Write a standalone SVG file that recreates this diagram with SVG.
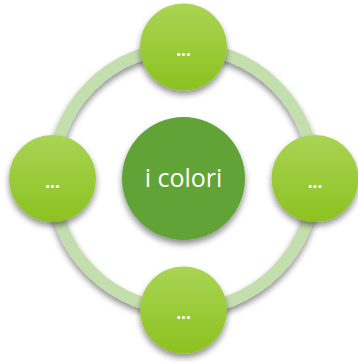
<svg xmlns="http://www.w3.org/2000/svg" width="358" height="362" viewBox="0 0 358 362">
<defs>
<linearGradient id="g" x1="0" y1="0" x2="0" y2="1">
<stop offset="0" stop-color="#a9d454"/>
<stop offset="1" stop-color="#8cc220"/>
</linearGradient>
<filter id="sh" x="-30%" y="-30%" width="160%" height="170%">
<feGaussianBlur in="SourceAlpha" stdDeviation="3"/>
<feOffset dx="0" dy="4" result="b"/>
<feComponentTransfer><feFuncA type="linear" slope="0.45"/></feComponentTransfer>
<feMerge><feMergeNode/><feMergeNode in="SourceGraphic"/></feMerge>
</filter>
</defs>
<style>
.n{fill:url(#g);filter:url(#sh)}
.t{fill:#fff;font-family:"Open Sans","Liberation Sans",sans-serif;text-anchor:middle}
.s{font-size:17px;font-weight:bold}
</style>
<g id="connectors">
<circle cx="183.5" cy="178.5" r="131" fill="none" stroke="#c4dfae" stroke-width="12" style="filter:url(#sh)"/>
</g>
<g id="center">
<circle cx="183.5" cy="178.5" r="61.5" fill="#62a338" style="filter:url(#sh)"/>
<text class="t" x="183.5" y="187" font-size="25">i colori</text>
</g>
<g id="top">
<circle class="n" cx="183.5" cy="47" r="43.5"/>
<text class="t s" x="183.5" y="56">...</text>
</g>
<g id="left">
<circle class="n" cx="52.5" cy="178.5" r="43.5"/>
<text class="t s" x="52.5" y="187.5">...</text>
</g>
<g id="right">
<circle class="n" cx="315" cy="178.5" r="43.5"/>
<text class="t s" x="315" y="187.5">...</text>
</g>
<g id="bottom">
<circle class="n" cx="183.5" cy="310" r="43.5"/>
<text class="t s" x="183.5" y="319">...</text>
</g>
</svg>
